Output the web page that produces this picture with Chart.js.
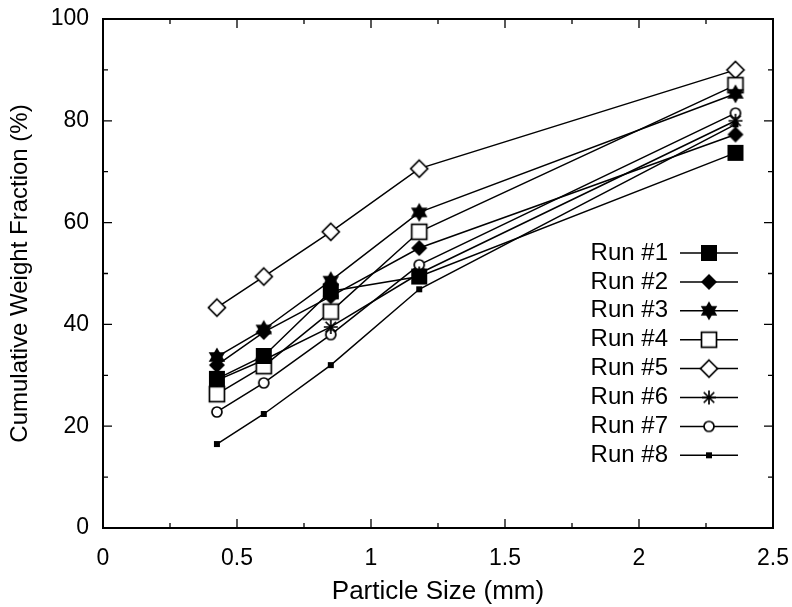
<!DOCTYPE html>
<html><head><meta charset="utf-8">
<script src="https://cdn.jsdelivr.net/npm/chart.js@4"></script>
<style>html,body{margin:0;padding:0;background:#fff;}canvas{display:block;}</style>
</head><body>
<canvas id="c" width="792" height="607"></canvas>
<script>
// ---- data ----
const particleSizes = [0.425, 0.6, 0.85, 1.18, 2.36];
const run1 = [29.3, 33.8, 46.5, 49.4, 73.7];
const run2 = [32.0, 38.5, 45.5, 55.0, 77.3];
const run3 = [33.6, 39.0, 48.6, 62.0, 85.3];
const run4 = [26.3, 31.8, 42.5, 58.2, 87.0];
const run5 = [43.3, 49.4, 58.2, 70.6, 90.0];
const run6 = [29.0, 33.0, 39.5, 50.0, 80.0];
const run7 = [22.8, 28.5, 38.0, 51.7, 81.5];
const run8 = [16.5, 22.4, 32.0, 46.9, 79.3];
const runLabels = ['Run #1','Run #2','Run #3','Run #4','Run #5','Run #6','Run #7','Run #8'];
const xTitle = 'Particle Size (mm)';
const yTitle = 'Cumulative Weight Fraction (%)';

// ---- marker images ----
function mk(size, draw){
  const c = document.createElement('canvas'); c.width = size; c.height = size;
  const g = c.getContext('2d'); g.translate(size/2, size/2);
  g.fillStyle = '#000'; g.strokeStyle = '#000'; g.lineWidth = 1.7;
  draw(g); return c;
}
const markers = [
  mk(18, g => { g.fillRect(-8,-8,16,16); }),
  mk(18, g => { g.beginPath(); g.moveTo(0,-8); g.lineTo(8,0); g.lineTo(0,8); g.lineTo(-8,0); g.closePath(); g.fill(); }),
  mk(22, g => {
    const R = 9.5;
    [[-90,30,150],[90,210,330]].forEach(t => {
      g.beginPath();
      t.forEach((a,i) => { const r = a*Math.PI/180; const px = R*Math.cos(r), py = R*Math.sin(r); i ? g.lineTo(px,py) : g.moveTo(px,py); });
      g.closePath(); g.fill();
    });
  }),
  mk(20, g => { g.fillStyle='#fff'; g.fillRect(-7.5,-7.5,15,15); g.strokeRect(-7.5,-7.5,15,15); }),
  mk(22, g => { g.beginPath(); g.moveTo(0,-8.5); g.lineTo(8.5,0); g.lineTo(0,8.5); g.lineTo(-8.5,0); g.closePath(); g.fillStyle='#fff'; g.fill(); g.stroke(); }),
  mk(18, g => { g.beginPath(); const r=7;
    g.moveTo(0,-r); g.lineTo(0,r); g.moveTo(-r,0); g.lineTo(r,0);
    const d=r*0.75; g.moveTo(-d,-d); g.lineTo(d,d); g.moveTo(-d,d); g.lineTo(d,-d); g.stroke(); }),
  mk(14, g => { g.beginPath(); g.arc(0,0,5,0,Math.PI*2); g.fillStyle='#fff'; g.fill(); g.stroke(); }),
  mk(8, g => { g.fillRect(-3,-3,6,6); })
];

const runs = [run1, run2, run3, run4, run5, run6, run7, run8];
const datasets = runs.map((r, k) => ({
  label: runLabels[k],
  data: particleSizes.map((x, i) => ({x: x, y: r[i]})),
  showLine: true,
  borderColor: '#000',
  borderWidth: 1.5,
  pointStyle: markers[k],
  pointRadius: 6,
  pointHoverRadius: 6,
  tension: 0
}));

const FONT = '"Liberation Sans", Arial, Helvetica, sans-serif';

const framePlugin = {
  id: 'frame',
  afterDraw(chart) {
    const {ctx, chartArea: a, scales: {x, y}} = chart;
    ctx.save();
    ctx.strokeStyle = '#000';
    ctx.lineWidth = 2;
    ctx.strokeRect(a.left, a.top, a.right - a.left, a.bottom - a.top);
    ctx.lineWidth = 1.3;
    const yt = y.ticks.map(t => t.value);
    const xt = x.ticks.map(t => t.value);
    function minors(arr){ const m=[]; for(let i=0;i<arr.length-1;i++) m.push((arr[i]+arr[i+1])/2); return m; }
    ctx.beginPath();
    yt.forEach(v => { const p = y.getPixelForValue(v); ctx.moveTo(a.left, p); ctx.lineTo(a.left+9, p); ctx.moveTo(a.right, p); ctx.lineTo(a.right-9, p); });
    minors(yt).forEach(v => { const p = y.getPixelForValue(v); ctx.moveTo(a.left, p); ctx.lineTo(a.left+5, p); ctx.moveTo(a.right, p); ctx.lineTo(a.right-5, p); });
    xt.forEach(v => { const p = x.getPixelForValue(v); ctx.moveTo(p, a.bottom); ctx.lineTo(p, a.bottom-9); ctx.moveTo(p, a.top); ctx.lineTo(p, a.top+9); });
    minors(xt).forEach(v => { const p = x.getPixelForValue(v); ctx.moveTo(p, a.bottom); ctx.lineTo(p, a.bottom-5); ctx.moveTo(p, a.top); ctx.lineTo(p, a.top+5); });
    ctx.stroke();

    // legend
    ctx.font = '24px ' + FONT;
    ctx.fillStyle = '#000';
    ctx.textAlign = 'right';
    ctx.textBaseline = 'middle';
    chart.data.datasets.forEach((ds, k) => {
      const yy = 253 + k * 28.9;
      ctx.fillText(ds.label, 668, yy);
      ctx.lineWidth = 1.5;
      ctx.beginPath(); ctx.moveTo(680, yy); ctx.lineTo(738, yy); ctx.stroke();
      const img = ds.pointStyle;
      ctx.drawImage(img, 709 - img.width/2, yy - img.height/2);
    });
    ctx.restore();
  }
};

new Chart(document.getElementById('c'), {
  type: 'scatter',
  data: { datasets },
  options: {
    responsive: false,
    animation: false,
    devicePixelRatio: 1,
    layout: { padding: { top: 19, right: 19, left: 0, bottom: 0 } },
    plugins: { legend: { display: false }, tooltip: { enabled: false } },
    scales: {
      x: {
        type: 'linear', min: 0, max: 2.5,
        grid: { display: false, drawTicks: false },
        border: { display: false },
        ticks: { stepSize: 0.5, color: '#000', font: { family: FONT, size: 23 }, padding: 17, maxRotation: 0,
                 callback: v => String(v) },
        title: { display: true, text: xTitle, color: '#000', font: { family: FONT, size: 26 }, padding: { top: 0, bottom: 0 } },
        afterFit: s => { s.height = 79; s.paddingLeft = 0; s.paddingRight = 0; }
      },
      y: {
        type: 'linear', min: 0, max: 100,
        grid: { display: false, drawTicks: false },
        border: { display: false },
        ticks: { stepSize: 20, color: '#000', font: { family: FONT, size: 23 }, padding: 14, callback: v => String(v) },
        title: { display: true, text: yTitle, color: '#000', font: { family: FONT, size: 24 }, padding: { top: 6, bottom: 0 } },
        afterFit: s => { s.width = 103; s.paddingTop = 0; s.paddingBottom = 0; }
      }
    }
  },
  plugins: [framePlugin]
});
</script>
</body></html>
